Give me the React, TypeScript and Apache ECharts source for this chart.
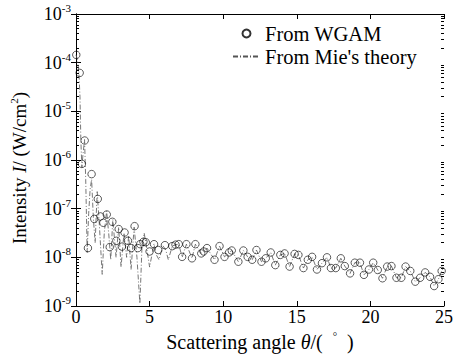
import React, { useEffect, useRef } from "react";
import * as echarts from "echarts";

// WGAM results (circles): scattering angle (deg) and log10 of intensity (W/cm^2)
const wgamAngle = [
  0.02, 0.25, 0.4, 0.59, 0.81, 1.06, 1.24, 1.48, 1.66, 1.86, 2.09, 2.29, 2.47, 2.74, 2.9, 3.12, 3.3, 3.53,
  3.75, 3.98, 4.2, 4.36, 4.58, 4.74, 5.0, 5.3, 5.59, 6.04, 6.54, 6.76, 6.98, 7.21, 7.5, 7.88, 8.11, 8.51,
  8.67, 8.9, 9.41, 9.75, 10.09, 10.4, 10.58, 11.03, 11.37, 11.66, 11.97, 12.26, 12.6, 12.89, 13.23, 13.54,
  13.88, 14.17, 14.51, 14.85, 15.11, 15.45, 15.75, 16.04, 16.37, 16.71, 17.05, 17.32, 17.65, 17.99, 18.26,
  18.62, 18.94, 19.29, 19.56, 19.9, 20.19, 20.5, 20.82, 21.14, 21.43, 21.77, 22.1, 22.39, 22.71, 23.05,
  23.38, 23.72, 24.05, 24.33, 24.62, 24.84,
];
const wgamLogI = [
  -3.84, -4.21, -6.08, -5.6, -7.81, -6.29, -7.21, -6.8, -7.16, -7.29, -7.12, -7.79, -7.27, -7.66, -7.42, -7.78,
  -7.49, -7.66, -7.81, -7.36, -7.81, -7.73, -7.68, -7.69, -7.88, -7.73, -7.85, -7.75, -7.77, -7.74, -7.73,
  -7.99, -7.73, -8.02, -7.73, -7.92, -7.88, -7.81, -8.05, -7.77, -7.99, -7.9, -7.86, -8.09, -7.86, -7.99,
  -8.05, -7.85, -8.09, -8.02, -7.9, -8.16, -7.95, -7.92, -8.19, -7.93, -7.95, -8.22, -8.05, -7.99, -8.25,
  -8.12, -8.0, -8.22, -8.22, -8.02, -8.18, -8.33, -8.11, -8.11, -8.36, -8.25, -8.11, -8.26, -8.43, -8.19,
  -8.18, -8.42, -8.42, -8.19, -8.28, -8.5, -8.42, -8.31, -8.4, -8.59, -8.45, -8.28,
];

// Mie's theory (dash-dot line)
const mieAngle = [
  0.0, 0.1, 0.2, 0.27, 0.33, 0.4, 0.47, 0.58, 0.66, 0.76, 0.86, 0.96, 1.06, 1.18, 1.3, 1.44, 1.58, 1.78,
  1.92, 2.08, 2.22, 2.36, 2.5, 2.72, 2.9, 3.06, 3.26, 3.44, 3.58, 3.74, 3.95, 4.14, 4.34, 4.48, 4.63, 4.8,
  5.0, 5.3, 5.46, 5.64, 5.9, 6.1, 6.27, 6.54, 6.76, 6.98, 7.21, 7.5, 7.88, 8.11, 8.51, 8.67, 8.9, 9.41,
  9.75, 10.09, 10.4, 10.58, 11.03, 11.37, 11.66, 11.97, 12.26, 12.6, 12.89, 13.23, 13.54, 13.88, 14.17,
  14.51, 14.85, 15.11, 15.45, 15.75, 16.04, 16.37, 16.71, 17.05, 17.32, 17.65, 17.99, 18.26, 18.62, 18.94,
  19.29, 19.56, 19.9, 20.19, 20.5, 20.82, 21.14, 21.43, 21.77, 22.1, 22.39, 22.71, 23.05, 23.38, 23.72,
  24.05, 24.33, 24.62, 24.84, 25.0,
];
const mieLogI = [
  -3.84, -3.95, -4.21, -4.7, -5.6, -6.15, -5.9, -5.58, -6.4, -7.9, -7.1, -6.6, -6.4, -7.2, -7.7, -6.65, -7.3,
  -8.35, -7.5, -7.05, -7.5, -8.05, -7.22, -8.0, -7.38, -8.2, -7.5, -8.0, -7.55, -8.25, -7.38, -8.0, -8.95,
  -7.8, -7.5, -7.8, -8.2, -7.72, -7.95, -8.05, -7.76, -7.85, -8.05, -7.77, -7.74, -7.73, -8.0, -7.73, -8.02,
  -7.73, -7.92, -7.88, -7.81, -8.05, -7.77, -7.99, -7.9, -7.86, -8.09, -7.86, -7.99, -8.05, -7.85, -8.09,
  -8.02, -7.9, -8.16, -7.95, -7.92, -8.19, -7.93, -7.95, -8.22, -8.05, -7.99, -8.25, -8.12, -8.0, -8.22,
  -8.22, -8.02, -8.18, -8.33, -8.11, -8.11, -8.36, -8.25, -8.11, -8.26, -8.43, -8.19, -8.18, -8.42, -8.42,
  -8.19, -8.28, -8.5, -8.42, -8.31, -8.4, -8.59, -8.45, -8.28, -8.2,
];

const xMin = 0;
const xMax = 25;
const xInterval = 5;
const yDecades = [-9, -8, -7, -6, -5, -4, -3];

const FONT = "Liberation Serif";

export default function App() {
  const ref = useRef<HTMLDivElement>(null);
  useEffect(() => {
    if (!ref.current) return;
    const chart = echarts.init(ref.current, null, { renderer: "svg" });
    const decadeValues = yDecades.map((d) => Math.pow(10, d));
    const minorValues: number[] = [];
    for (let i = 0; i < yDecades.length - 1; i++) {
      for (let k = 2; k <= 9; k++) minorValues.push(k * Math.pow(10, yDecades[i]));
    }
    const wgam = wgamAngle.map((a, i) => [a, Math.pow(10, wgamLogI[i])]);
    const mie = mieAngle.map((a, i) => [a, Math.pow(10, mieLogI[i])]);
    const nameRich = (size: number) => ({
      sup: { fontSize: 11, fontFamily: FONT, color: "#000", padding: [0, 0, 12, 0] },
      i: { fontSize: size, fontFamily: FONT, fontStyle: "italic", color: "#000" },
      n: { fontSize: size, fontFamily: FONT, color: "#000" },
    });
    const yAxisBase = {
      type: "log",
      logBase: 10,
      min: Math.pow(10, yDecades[0]),
      max: Math.pow(10, yDecades[yDecades.length - 1]),
      axisLine: { show: true, lineStyle: { color: "#000", width: 1 } },
      splitLine: { show: false },
      minorTick: { show: false },
    };
    chart.setOption({
      animation: false,
      backgroundColor: "#fff",
      textStyle: { fontFamily: FONT },
      grid: { left: 73, right: 13, top: 14, bottom: 52, containLabel: false },
      legend: {
        orient: "vertical",
        left: 227,
        top: 18,
        itemWidth: 27,
        itemHeight: 8,
        itemGap: 2,
        textStyle: { fontSize: 20.5, fontFamily: FONT, color: "#000" },
        data: [
          { name: "From WGAM" },
          { name: "From Mie's theory", itemStyle: { opacity: 0 } },
        ],
      },
      xAxis: [
        {
          type: "value",
          min: xMin,
          max: xMax,
          interval: xInterval,
          position: "bottom",
          axisLine: { show: true, onZero: false, lineStyle: { color: "#000", width: 1 } },
          axisTick: { show: true, inside: true, length: 5, lineStyle: { color: "#000" } },
          splitLine: { show: false },
          axisLabel: { fontSize: 18, fontFamily: FONT, color: "#000", margin: 2 },
          name: "{n|Scattering angle }{i|θ}{n|/(  }{sup|°}{n|  )}",
          nameLocation: "middle",
          nameGap: 18,
          nameTextStyle: { fontSize: 20, fontFamily: FONT, color: "#000", rich: nameRich(20) },
        },
        {
          type: "value",
          min: xMin,
          max: xMax,
          interval: xInterval,
          position: "top",
          axisLine: { show: true, onZero: false, lineStyle: { color: "#000", width: 1 } },
          axisTick: { show: true, inside: true, length: 5, lineStyle: { color: "#000" } },
          splitLine: { show: false },
          axisLabel: { show: false },
        },
      ],
      yAxis: [
        {
          ...yAxisBase,
          position: "left",
          axisTick: { show: true, inside: true, length: 5, lineStyle: { color: "#000" }, customValues: decadeValues },
          axisLabel: {
            customValues: decadeValues,
            margin: 5,
            fontSize: 18,
            fontFamily: FONT,
            color: "#000",
            formatter: (v: number) => `{n|10}{sup|${Math.round(Math.log10(v))}}`,
            rich: nameRich(18),
          },
          name: "{n|Intensity }{i|I}{n|/ (W/cm}{sup|2}{n|)}",
          nameLocation: "middle",
          nameGap: 45,
          nameTextStyle: {
            fontSize: 19,
            fontFamily: FONT,
            color: "#000",
            padding: [0, 16, 0, 0],
            rich: nameRich(19),
          },
        },
        {
          ...yAxisBase,
          position: "right",
          axisTick: { show: true, inside: true, length: 5, lineStyle: { color: "#000" }, customValues: decadeValues },
          axisLabel: { show: false },
        },
        {
          ...yAxisBase,
          position: "left",
          axisLine: { show: false },
          axisTick: { show: true, inside: true, length: 3, lineStyle: { color: "#000" }, customValues: minorValues },
          axisLabel: { show: false },
        },
        {
          ...yAxisBase,
          position: "right",
          axisLine: { show: false },
          axisTick: { show: true, inside: true, length: 3, lineStyle: { color: "#000" }, customValues: minorValues },
          axisLabel: { show: false },
        },
      ],
      series: [
        {
          name: "From Mie's theory",
          type: "line",
          data: mie,
          showSymbol: false,
          symbol: "none",
          lineStyle: { color: "#555", width: 0.8, type: [5, 2, 1, 2] },
          itemStyle: { color: "#555" },
          z: 2,
        },
        {
          name: "From WGAM",
          type: "scatter",
          data: wgam,
          symbol: "circle",
          symbolSize: 7.5,
          itemStyle: { color: "rgba(255,255,255,0)", borderColor: "#000", borderWidth: 0.8 },
          z: 3,
        },
      ],
    });
    return () => chart.dispose();
  }, []);
  return <div ref={ref} style={{ width: 457, height: 358, position: "absolute", left: 0, top: 0 }} />;
}
